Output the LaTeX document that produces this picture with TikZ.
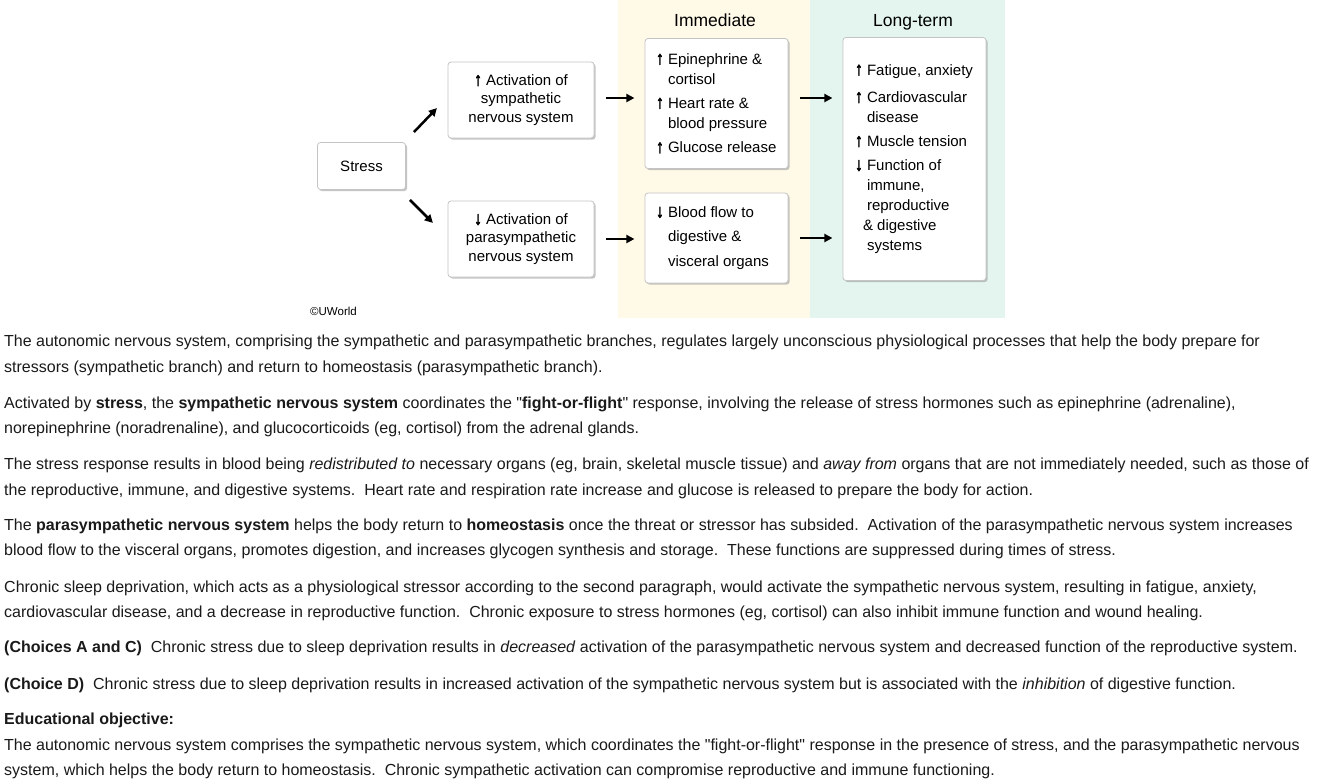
\documentclass[tikz,border=0pt]{standalone}
\usepackage{fontspec}
\usepackage{graphicx}
\setmainfont{Liberation Sans}
\newfontfamily\arrfont{Liberation Sans}[FakeBold=2.5]
\usetikzlibrary{shadows,arrows.meta}
\definecolor{immbg}{HTML}{FFF9E8}
\definecolor{longbg}{HTML}{E3F5EE}
\definecolor{boxline}{HTML}{C4C4C4}
\definecolor{txt}{HTML}{1A1A1A}
\newcommand\txtline[3]{\node[para] (#1) at (4,#2) {#3};}
\newcommand\uarr{\scalebox{1.05}[1.25]{\arrfont ↑}}
\newcommand\darr{\scalebox{1.05}[1.25]{\arrfont ↓}}
\newcommand\qq{\textquotedbl}
\begin{document}
\begin{tikzpicture}[x=1pt,y=-1pt,
  box/.style={draw=boxline, line width=0.8pt, fill=white, rounded corners=3pt,
    drop shadow={shadow xshift=1.6pt, shadow yshift=-1.6pt, opacity=0.5, fill=black!45},
    font=\fontsize{15}{20}\selectfont, inner sep=0pt},
  cbox/.style={align=center, font=\fontsize{15}{18.3}\selectfont},
  lbox/.style={align=left},
  title/.style={anchor=base, inner sep=0pt, font=\fontsize{17.5}{20}\selectfont},
  arr/.style={line width=2.5pt, -{Triangle[length=8pt,width=8pt]}},
  para/.style={anchor=base west, inner sep=0pt, text=txt, font=\fontsize{16}{18}\selectfont},
]
\useasboundingbox (0,0) rectangle (1318,779);
\fill[white] (0,0) rectangle (1318,779);
\fill[immbg] (618,0) rectangle (810,318);
\fill[longbg] (810,0) rectangle (1005,318);

\node[title] (timm) at (715,26) {Immediate};
\node[title] (tlong) at (913,26) {Long-term};

\node[box, minimum width=88pt, minimum height=47pt] (stress) at (361.5,166) {Stress};
\node[box, cbox, minimum width=146pt, minimum height=76pt] (symp) at (521,100)
  {\uarr\ Activation of\\sympathetic\\nervous system};
\node[box, cbox, minimum width=146pt, minimum height=76pt] (para) at (521,239)
  {\darr\ Activation of\\parasympathetic\\nervous system};
\node[box, lbox, minimum width=143pt, minimum height=130pt] (imm1) at (716.5,103.5)
  {\makebox[121pt][l]{\uarr\ Epinephrine \&}\\\phantom{\uarr\ }cortisol\\[4pt]\uarr\ Heart rate \&\\\phantom{\uarr\ }blood pressure\\[4.5pt]\uarr\ Glucose release};
\node[box, lbox, minimum width=143pt, minimum height=90pt] (imm2) at (716.5,238)
  {\makebox[121pt][l]{\darr\ Blood flow to}\\[4.5pt]\phantom{\darr\ }digestive \&\\[4.5pt]\phantom{\darr\ }visceral organs};
\node[box, lbox, minimum width=143pt, minimum height=243pt] (long) at (914.5,159)
  {\makebox[119pt][l]{\uarr\ Fatigue, anxiety}\\[7.4pt]\uarr\ Cardiovascular\\\phantom{\uarr\ }disease\\[4pt]\uarr\ Muscle tension\\[4pt]\darr\ Function of\\\phantom{\uarr\ }immune,\\\phantom{\uarr\ }reproductive\\\hspace*{8pt}\& digestive\\\phantom{\uarr\ }systems};

\draw[arr] ([xshift=8pt,yshift=10pt]stress.north east) -- ([xshift=31pt,yshift=34pt]stress.north east);
\draw[arr] ([xshift=4pt,yshift=-10pt]stress.south east) -- ([xshift=27pt,yshift=-33pt]stress.south east);
\draw[arr] ([xshift=12pt,yshift=2pt]symp.east) -- ([xshift=40pt,yshift=2pt]symp.east);
\draw[arr] ([xshift=12pt]para.east) -- ([xshift=40pt]para.east);
\draw[arr] ([xshift=12pt,yshift=5.5pt]imm1.east) -- ([xshift=44pt,yshift=5.5pt]imm1.east);
\draw[arr] ([xshift=12pt]imm2.east) -- ([xshift=44pt]imm2.east);

\node[anchor=base west, inner sep=0pt, font=\fontsize{11.5}{12}\selectfont] (copy) at (310,315) {©UWorld};

\txtline{p1}{346.5}{The autonomic nervous system, comprising the sympathetic and parasympathetic branches, regulates largely unconscious physiological processes that help the body prepare for}
\txtline{p2}{372.5}{stressors (sympathetic branch) and return to homeostasis (parasympathetic branch).}
\txtline{p3}{408.5}{Activated by \textbf{stress}, the \textbf{sympathetic nervous system} coordinates the \qq\textbf{fight-or-flight}\qq\ response, involving the release of stress hormones such as epinephrine (adrenaline),}
\txtline{p4}{433.5}{norepinephrine (noradrenaline), and glucocorticoids (eg, cortisol) from the adrenal glands.}
\txtline{p5}{469.5}{The stress response results in blood being \textit{redistributed to} necessary organs (eg, brain, skeletal muscle tissue) and \textit{away from} organs that are not immediately needed, such as those of}
\txtline{p6}{495.5}{the reproductive, immune, and digestive systems.\ \ Heart rate and respiration rate increase and glucose is released to prepare the body for action.}
\txtline{p7}{530.5}{The \textbf{parasympathetic nervous system} helps the body return to \textbf{homeostasis} once the threat or stressor has subsided.\ \ Activation of the parasympathetic nervous system increases}
\txtline{p8}{555.5}{blood flow to the visceral organs, promotes digestion, and increases glycogen synthesis and storage.\ \ These functions are suppressed during times of stress.}
\txtline{p9}{592.5}{Chronic sleep deprivation, which acts as a physiological stressor according to the second paragraph, would activate the sympathetic nervous system, resulting in fatigue, anxiety,}
\txtline{p10}{617.5}{cardiovascular disease, and a decrease in reproductive function.\ \ Chronic exposure to stress hormones (eg, cortisol) can also inhibit immune function and wound healing.}
\txtline{p11}{652.5}{\textbf{(Choices A and C)}\ \ Chronic stress due to sleep deprivation results in \textit{decreased} activation of the parasympathetic nervous system and decreased function of the reproductive system.}
\txtline{p12}{689.5}{\textbf{(Choice D)}\ \ Chronic stress due to sleep deprivation results in increased activation of the sympathetic nervous system but is associated with the \textit{inhibition} of digestive function.}
\txtline{p13}{724.5}{\textbf{Educational objective:}}
\txtline{p14}{750.5}{The autonomic nervous system comprises the sympathetic nervous system, which coordinates the \qq fight-or-flight\qq\ response in the presence of stress, and the parasympathetic nervous}
\txtline{p15}{775.5}{system, which helps the body return to homeostasis.\ \ Chronic sympathetic activation can compromise reproductive and immune functioning.}
\end{tikzpicture}
\end{document}
